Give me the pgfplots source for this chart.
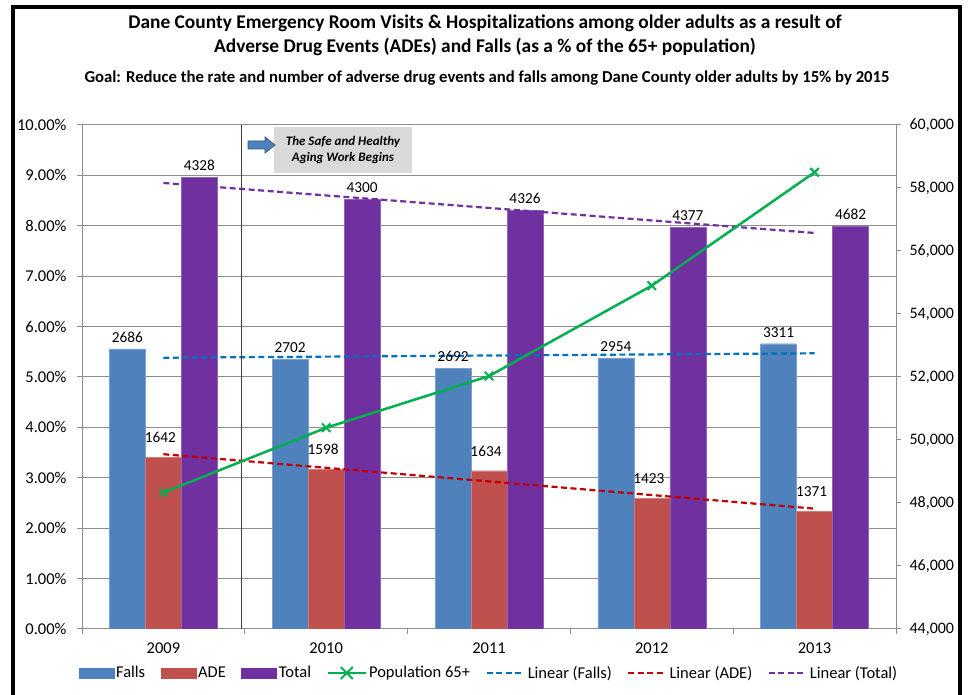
\documentclass[border=0pt]{standalone}
\usepackage{fontspec}
\setmainfont{Carlito}
\usepackage{pgfplots}
\pgfplotsset{compat=1.18}

\definecolor{falls}{HTML}{4F81BD}
\definecolor{ade}{HTML}{C0504D}
\definecolor{total}{HTML}{7030A0}
\definecolor{popgreen}{HTML}{00B050}
\definecolor{trendblue}{HTML}{0070C0}
\definecolor{trendred}{HTML}{C00000}
\definecolor{gridgray}{HTML}{8C8C8C}
\definecolor{boxgray}{HTML}{D9D9D9}

\newcommand{\lbl}{\fontsize{15.3}{17}\selectfont}
\newcommand{\tkl}{\fontsize{16.5}{18}\selectfont}

\begin{document}
\begin{tikzpicture}[x=1pt,y=1pt]
\useasboundingbox (0,0) rectangle (971,695);

% ---- left axis: bars + trendlines ----
\begin{axis}[
  at={(82pt,66pt)}, anchor=south west, scale only axis,
  width=814pt, height=504pt,
  xmin=-0.5, xmax=4.5, ymin=0, ymax=10,
  axis x line*=bottom, axis y line*=left,
  axis line style={gridgray, line width=1pt},
  xtick={-0.5,0.5,1.5,2.5,3.5,4.5},
  xticklabels={2009,2010,2011,2012,2013},
  x tick label as interval,
  ytick={0,1,...,10},
  ymajorgrids, grid style={gridgray, line width=1pt},
  tick align=outside, major tick length=5pt,
  tick style={gridgray, line width=1pt},
  tick label style={font=\tkl},
  xticklabel style={yshift=-5pt},
  yticklabel={\pgfmathprintnumber{\tick}\%},
  yticklabel style={xshift=-7pt, /pgf/number format/.cd, fixed, fixed zerofill, precision=2, assume math mode=true},
  legend columns=-1,
  legend style={at={(0.5,-0.0873)}, anchor=center, draw=none, fill=none,
                font=\tkl, /tikz/every even column/.append style={column sep=13.5pt}},
  nodes near coords style={font=\lbl, text=black, yshift=3pt},
]
\addplot[ybar, bar width=36pt, bar shift=-36pt, fill=falls, draw=falls!75!white,
  point meta=explicit symbolic, nodes near coords,
  nodes near coords style={xshift=-36pt},
  legend image code/.code={\fill[falls] (0pt,-5pt) rectangle (35pt,5pt);}]
  coordinates {(0,5.56)[2686] (1,5.36)[2702] (2,5.17)[2692] (3,5.38)[2954] (4,5.66)[3311]};
\addlegendentry{Falls}
\addplot[ybar, bar width=36pt, bar shift=0pt, fill=ade, draw=ade!75!white,
  point meta=explicit symbolic, nodes near coords,
  nodes near coords style={yshift=8pt, xshift=-3pt},
  legend image code/.code={\fill[ade] (0pt,-5pt) rectangle (35pt,5pt);}]
  coordinates {(0,3.40)[1642] (1,3.17)[1598] (2,3.14)[1634] (3,2.59)[1423] (4,2.34)[1371]};
\addlegendentry{ADE}
\addplot[ybar, bar width=36pt, bar shift=36pt, fill=total, draw=total!75!white,
  point meta=explicit symbolic, nodes near coords,
  nodes near coords style={xshift=36pt},
  legend image code/.code={\fill[total] (0pt,-5pt) rectangle (35pt,5pt);}]
  coordinates {(0,8.96)[4328] (1,8.53)[4300] (2,8.31)[4326] (3,7.97)[4377] (4,8.00)[4682]};
\addlegendentry{Total}
\addlegendimage{popgreen, line width=2.5pt,
  legend image code/.code={\draw[popgreen, line width=2.5pt] (0pt,0pt)--(38pt,0pt);
    \draw[popgreen, line width=2pt] (13pt,-6pt)--(25pt,6pt) (13pt,6pt)--(25pt,-6pt);}}
\addlegendentry{Population 65+}

% linear trendlines (least squares through the five rates)
\addplot[trendblue, line width=2.2pt, dash pattern=on 6pt off 3.5pt,
  legend image code/.code={\draw[trendblue, line width=2.2pt, dash pattern=on 6pt off 3.5pt] (0pt,0pt)--(38pt,0pt);}]
  coordinates {(0,5.382) (4,5.470)};
\addlegendentry{Linear (Falls)}
\addplot[trendred, line width=2.2pt, dash pattern=on 6pt off 3.5pt,
  legend image code/.code={\draw[trendred, line width=2.2pt, dash pattern=on 6pt off 3.5pt] (0pt,0pt)--(38pt,0pt);}]
  coordinates {(0,3.468) (4,2.388)};
\addlegendentry{Linear (ADE)}
\addplot[total, line width=2.2pt, dash pattern=on 6pt off 3.5pt,
  legend image code/.code={\draw[total, line width=2.2pt, dash pattern=on 6pt off 3.5pt] (0pt,0pt)--(38pt,0pt);}]
  coordinates {(0,8.850) (4,7.858)};
\addlegendentry{Linear (Total)}

\draw[black!75, line width=1.2pt] (axis cs:0.48,0) -- (axis cs:0.48,10);
\end{axis}

% ---- right axis: population ----
\begin{axis}[
  at={(82pt,66pt)}, anchor=south west, scale only axis,
  width=814pt, height=504pt,
  xmin=-0.5, xmax=4.5, ymin=44000, ymax=60000,
  axis x line=none, axis y line*=right,
  axis line style={gridgray, line width=1pt},
  ytick={44000,46000,...,60000},
  scaled y ticks=false,
  tick align=outside, major tick length=5pt,
  tick style={gridgray, line width=1pt},
  tick label style={font=\fontsize{16}{18}\selectfont},
  yticklabel style={xshift=5pt, /pgf/number format/.cd, fixed, 1000 sep={,}, assume math mode=true},
]
\addplot[popgreen, line width=2.5pt, mark=x, mark size=6pt, mark options={line width=2pt}]
  coordinates {(0,48330) (1,50390) (2,52030) (3,54900) (4,58500)};
\end{axis}

% ---- annotation ----
\fill[boxgray] (274,522) rectangle (412,568);
\filldraw[fill=falls, draw=falls!70!black, line width=0.8pt]
  (248,546) -- (265,546) -- (265,542) -- (275,550) -- (265,558) -- (265,554) -- (248,554) -- cycle;
\node[font=\bfseries\itshape\fontsize{13}{16}\selectfont, align=center] at (343,545)
  {The Safe and Healthy\\Aging Work Begins};

% ---- titles ----
\node[font=\bfseries\fontsize{19.4}{22}\selectfont] at (485,672)
  {Dane County Emergency Room Visits \& Hospitalizations among older adults as a result of};
\node[font=\bfseries\fontsize{19.4}{22}\selectfont] at (485,648)
  {Adverse Drug Events (ADEs) and Falls (as a \% of the 65+ population)};
\node[font=\bfseries\fontsize{16.7}{19}\selectfont] at (487,617)
  {Goal: Reduce the rate and number of adverse drug events and falls among Dane County older adults by 15\% by 2015};

% ---- frame ----
\draw[line width=4pt] (13,-20) rectangle (960,688);
\end{tikzpicture}
\end{document}
